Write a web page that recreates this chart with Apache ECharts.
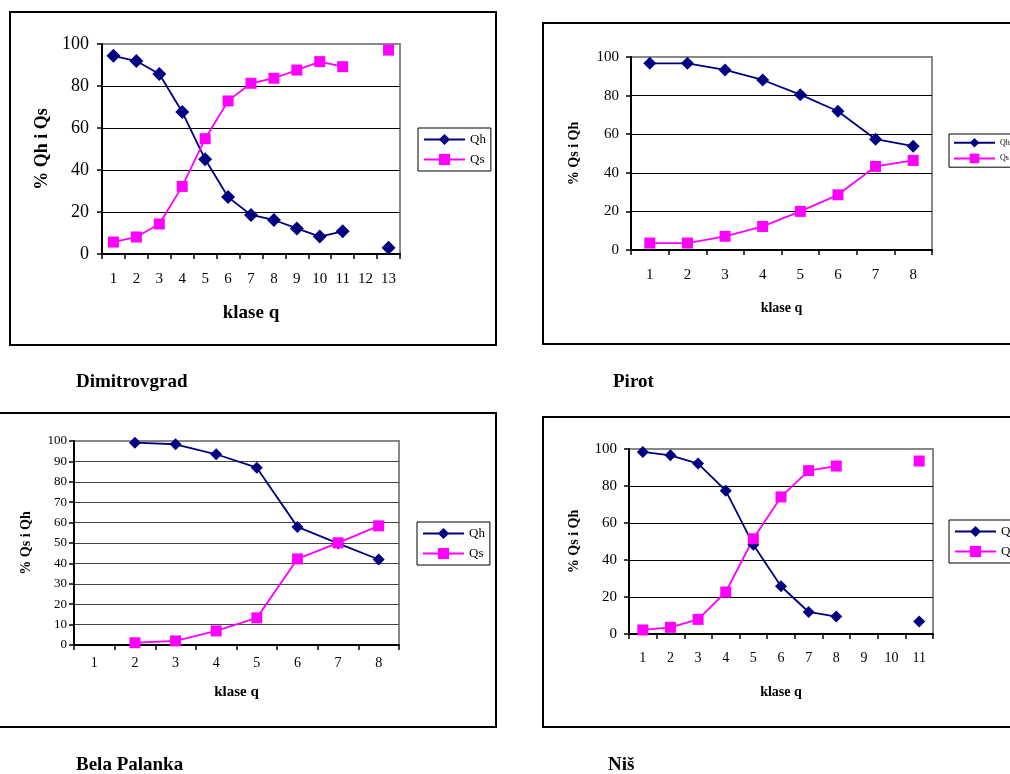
<!DOCTYPE html>
<html>
<head>
<meta charset="utf-8">
<script src="https://cdn.jsdelivr.net/npm/echarts@6/dist/echarts.min.js"></script>
<style>
html,body{margin:0;padding:0;background:#fff;}
#c{width:1010px;height:774px;}
</style>
</head>
<body>
<div id="c"></div>
<script>
// ---- Data ----
const dimCats = ['1','2','3','4','5','6','7','8','9','10','11','12','13'];
const dimQh = [94.4, 91.9, 85.7, 67.6, 45.1, 27.1, 18.6, 16.2, 12.2, 8.3, 10.8, null, 3.0];
const dimQs = [5.7, 8.1, 14.3, 32.2, 54.9, 72.9, 81.3, 83.7, 87.6, 91.6, 89.2, null, 97.1];

const pirCats = ['1','2','3','4','5','6','7','8'];
const pirQh = [96.7, 96.7, 93.3, 88.1, 80.5, 71.9, 57.4, 53.8];
const pirQs = [3.6, 3.6, 7.1, 12.2, 20.0, 28.6, 43.3, 46.4];

const belCats = ['1','2','3','4','5','6','7','8'];
const belQh = [null, 99.2, 98.4, 93.5, 86.9, 57.9, 49.8, 41.9];
const belQs = [null, 1.1, 2.0, 6.9, 13.3, 42.2, 50.1, 58.4];

const nisCats = ['1','2','3','4','5','6','7','8','9','10','11'];
const nisQh = [98.4, 96.6, 92.1, 77.5, 48.3, 25.8, 11.9, 9.4, null, null, 6.8];
const nisQs = [2.2, 3.6, 7.9, 22.7, 51.5, 74.1, 88.3, 90.8, null, null, 93.5];

const titles = ['Dimitrovgrad', 'Pirot', 'Bela Palanka', 'Niš'];
const yNames = ['% Qh i Qs', '% Qs i Qh', '% Qs i Qh', '% Qs i Qh'];
const xName = 'klase q';

// ---- Layout ----
const SERIF = '"Liberation Serif", "Times New Roman", serif';
const QH = '#000080', QS = '#FF00FF';

const panels = [
  {cats: dimCats, qh: dimQh, qs: dimQs, grid:{left:102, top:44, width:298, height:210},
   yInt:20, yFont:18, xFont:15, yMargin:13, xMargin:18, yNameFont:18, yNameGap:51, xNameFont:19, xNameGap:50,
   legend:{left:418, top:128, font:13, itemHeight:14, itemGap:7, pad:[5,5,5,5]}, grid2:'#000',
   dSize:14, sSize:11},
  {cats: pirCats, qh: pirQh, qs: pirQs, grid:{left:631, top:57, width:301, height:193},
   yInt:20, yFont:15, xFont:15, yMargin:12, xMargin:18, yNameFont:14, yNameGap:50, xNameFont:14, xNameGap:51,
   legend:{left:949, top:134, font:8, itemHeight:12, itemGap:6, pad:[4,4,4,4]}, grid2:'#000',
   dSize:13, sSize:11},
  {cats: belCats, qh: belQh, qs: belQs, grid:{left:74, top:441, width:325, height:204},
   yInt:10, yFont:13, xFont:14, yMargin:7, xMargin:11, yNameFont:14, yNameGap:41, xNameFont:15, xNameGap:40,
   legend:{left:417, top:522, font:13, itemHeight:14, itemGap:7, pad:[5,5,5,5]}, grid2:'#444',
   dSize:12, sSize:11},
  {cats: nisCats, qh: nisQh, qs: nisQs, grid:{left:629, top:449, width:304, height:185},
   yInt:20, yFont:15, xFont:14, yMargin:12, xMargin:17, yNameFont:14, yNameGap:48, xNameFont:14, xNameGap:51,
   legend:{left:949, top:520, font:13, itemHeight:14, itemGap:7, pad:[5,5,5,5]}, grid2:'#000',
   dSize:12, sSize:11}
];

const grids = [], xAxes = [], yAxes = [], series = [], legends = [];
panels.forEach((p, i) => {
  grids.push(Object.assign({show:true, borderColor:'#888', borderWidth:2, backgroundColor:'transparent'}, p.grid));
  xAxes.push({
    type:'category', gridIndex:i, data:p.cats, boundaryGap:true,
    name:xName, nameLocation:'middle', nameGap:p.xNameGap,
    nameTextStyle:{fontFamily:SERIF, fontWeight:'bold', fontSize:p.xNameFont, color:'#000'},
    axisLine:{show:true, lineStyle:{color:'#000', width:2}},
    axisTick:{show:true, inside:false, length:5, alignWithLabel:false, lineStyle:{color:'#000', width:1.5}},
    axisLabel:{fontFamily:SERIF, fontSize:p.xFont, color:'#000', margin:p.xMargin, interval:0},
    splitLine:{show:false}
  });
  const nLines = 100 / p.yInt + 1;
  const cols = [];
  for (let k = 0; k < nLines; k++) cols.push(k === nLines - 1 ? '#888' : p.grid2);
  yAxes.push({
    type:'value', gridIndex:i, min:0, max:100, interval:p.yInt,
    name:yNames[i], nameLocation:'middle', nameGap:p.yNameGap, nameRotate:90,
    nameTextStyle:{fontFamily:SERIF, fontWeight:'bold', fontSize:p.yNameFont, color:'#000'},
    axisLine:{show:true, lineStyle:{color:'#000', width:2}},
    axisTick:{show:true, inside:false, length:5, lineStyle:{color:'#000', width:1.5}},
    axisLabel:{fontFamily:SERIF, fontSize:p.yFont, color:'#000', margin:p.yMargin},
    splitLine:{show:true, lineStyle:{color:cols, width:1.2}}
  });
  series.push({
    name:'Qh', type:'line', xAxisIndex:i, yAxisIndex:i, data:p.qh, connectNulls:false,
    symbol:'diamond', symbolSize:p.dSize, showAllSymbol:true,
    lineStyle:{color:QH, width:1.8}, itemStyle:{color:QH}, animation:false
  });
  series.push({
    name:'Qs', type:'line', xAxisIndex:i, yAxisIndex:i, data:p.qs, connectNulls:false,
    symbol:'rect', symbolSize:p.sSize, showAllSymbol:true,
    lineStyle:{color:QS, width:1.8}, itemStyle:{color:QS}, animation:false
  });
  legends.push({
    data:['Qh','Qs'], orient:'vertical', left:p.legend.left, top:p.legend.top,
    padding:p.legend.pad, itemGap:p.legend.itemGap, itemWidth:41, itemHeight:p.legend.itemHeight,
    borderColor:'#000', borderWidth:1, backgroundColor:'#fff', selectedMode:false,
    textStyle:{fontFamily:SERIF, fontSize:p.legend.font, color:'#000'}
  });
});

const boxes = [
  {x:10, y:12, w:486, h:333},
  {x:543, y:23, w:490, h:321},
  {x:-5, y:413, w:501, h:314},
  {x:543, y:417, w:490, h:310}
];
const titlePos = [[76, 382], [613, 382], [76, 765], [608, 765]];

const graphic = [];
boxes.forEach(b => graphic.push({
  type:'rect', shape:{x:b.x, y:b.y, width:b.w, height:b.h}, z:-10, silent:true,
  style:{fill:'#fff', stroke:'#000', lineWidth:2}
}));
titlePos.forEach((tp, i) => graphic.push({
  type:'text', x:tp[0], y:tp[1], silent:true,
  style:{text:titles[i], font:'bold 19px ' + SERIF, fill:'#000', textVerticalAlign:'middle', verticalAlign:'middle'}
}));

const chart = echarts.init(document.getElementById('c'), null, {renderer:'canvas'});
chart.setOption({
  backgroundColor:'#fff',
  animation:false,
  graphic: graphic,
  grid: grids,
  xAxis: xAxes,
  yAxis: yAxes,
  legend: legends,
  series: series
});
</script>
</body>
</html>
